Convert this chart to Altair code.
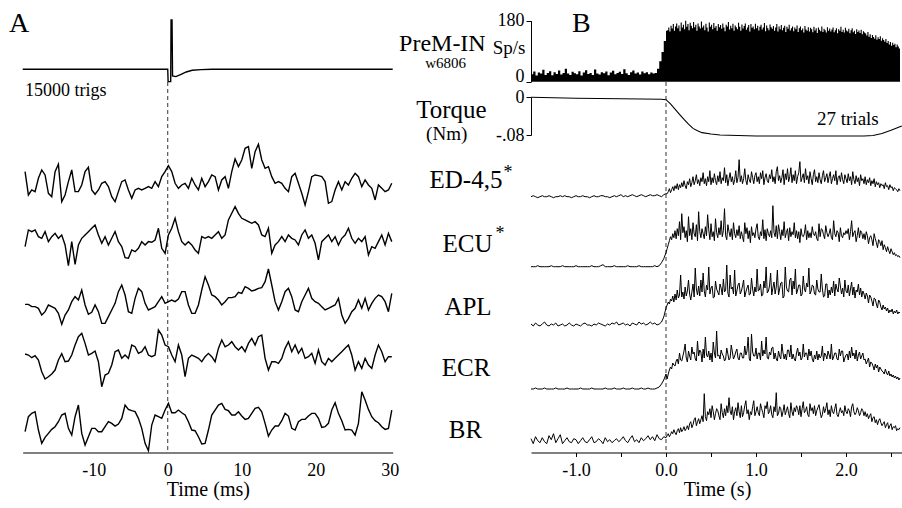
import altair as alt
import pandas as pd

FONT = "Liberation Serif"

# ---------------- data ----------------
# Panel A: spike-triggered averages, sampled on a regular grid (ms)
A_T0 = -19.28
A_DT = 0.4505
A_ED = [110, 40, 55, 50, 90, 115, 100, 45, 35, 110,
        132, 20, 40, 80, 115, 50, 50, 70, 110, 123,
        55, 42, 55, 75, 80, 65, 35, 20, 50, 80,
        85, 55, 30, 55, 60, 55, 60, 65, 60, 80,
        65, 95, 110, 128, 110, 75, 60, 70, 75, 60,
        90, 70, 55, 90, 65, 80, 100, 95, 55, 85,
        95, 60, 110, 148, 125, 145, 180, 185, 120, 170,
        192, 145, 120, 125, 95, 75, 80, 75, 60, 50,
        95, 105, 75, 45, 10, 50, 95, 100, 98, 95,
        80, 15, 20, 55, 80, 55, 80, 70, 90, 105,
        95, 65, 85, 70, 60, 25, 70, 60, 50, 55, 75]
A_ECU = [65, 115, 110, 115, 95, 90, 110, 80, 95, 105,
         90, 100, 70, 8, 80, 12, 70, 90, 100, 110,
         120, 130, 100, 75, 95, 70, 90, 110, 80, 65,
         32, 30, 55, 50, 60, 80, 70, 80, 78, 85,
         120, 60, 45, 100, 120, 150, 110, 80, 70, 80,
         70, 55, 45, 95, 90, 95, 90, 100, 110, 90,
         100, 145, 165, 185, 165, 150, 145, 140, 135, 140,
         130, 100, 95, 120, 45, 70, 80, 95, 80, 100,
         90, 85, 70, 100, 115, 90, 100, 75, 25, 80,
         90, 100, 80, 95, 70, 90, 100, 120, 90, 75,
         90, 80, 95, 40, 65, 60, 80, 100, 70, 105, 80]
A_APL = [77, 77, 70, 70, 65, 45, 55, 75, 70, 65,
         50, 17, 45, 60, 85, 100, 90, 120, 75, 47,
         53, 75, 55, 20, 20, 40, 60, 80, 115, 135,
         105, 55, 50, 95, 125, 115, 80, 60, 65, 70,
         85, 100, 80, 85, 90, 85, 93, 115, 115, 75,
         50, 50, 75, 120, 160, 135, 105, 100, 90, 75,
         85, 97, 97, 100, 113, 110, 130, 125, 117, 120,
         125, 127, 145, 183, 135, 85, 60, 85, 115, 125,
         100, 60, 55, 85, 105, 125, 95, 85, 80, 70,
         60, 65, 70, 75, 95, 45, 20, 35, 55, 65,
         90, 65, 95, 60, 80, 95, 105, 100, 85, 55, 110]
A_ECR = [113, 110, 102, 108, 95, 60, 38, 45, 53, 65,
         95, 114, 90, 92, 110, 140, 165, 175, 145, 110,
         115, 122, 90, 15, 50, 55, 80, 120, 125, 100,
         110, 100, 140, 135, 115, 120, 135, 110, 105, 110,
         185, 170, 140, 135, 110, 90, 140, 110, 45, 100,
         110, 105, 100, 90, 105, 115, 105, 90, 130, 155,
         135, 140, 150, 135, 125, 135, 120, 145, 160, 140,
         165, 170, 100, 65, 90, 90, 85, 100, 130, 150,
         120, 140, 115, 130, 100, 105, 115, 85, 125, 90,
         80, 100, 90, 100, 110, 120, 130, 140, 110, 65,
         90, 70, 100, 80, 70, 110, 140, 120, 90, 105, 105]
A_BR = [60, 105, 115, 120, 65, 25, 43, 55, 67, 75,
        90, 110, 115, 70, 50, 105, 140, 55, 20, 45,
        70, 70, 60, 60, 75, 90, 85, 77, 83, 100,
        140, 127, 123, 120, 100, 70, 25, 3, 80, 110,
        105, 100, 125, 145, 117, 117, 125, 117, 110, 90,
        65, 63, 45, 23, 25, 65, 110, 125, 140, 145,
        127, 123, 110, 110, 120, 107, 97, 100, 115, 130,
        133, 120, 85, 47, 65, 77, 77, 93, 115, 107,
        70, 65, 90, 97, 97, 107, 115, 115, 100, 73,
        75, 85, 125, 147, 115, 93, 65, 67, 65, 50,
        85, 180, 155, 127, 105, 93, 87, 75, 67, 70, 125]
# Trigger-spike average (time ms, amplitude)
A_SPIKE_T = [-19.6, 0.0, 0.05, 0.4, 0.45, 0.58, 0.65, 1.1, 1.8, 2.5, 3.3, 4.5, 6.0, 30.4]
A_SPIKE_V = [0, 0, -37, -37, 148, 148, -20, -22, -15, -8, -3, -1, 0, 0]

# Panel B: before onset every 25 ms (-1.5..0 s), after onset every 12.5 ms
B_PRE_T0, B_PRE_DT = -1.5, 0.025
B_POST_T0, B_POST_DT = 0.0125, 0.0125

# PreM-IN firing-rate histogram (sp/s)
B_HIST_PRE = [22, 30, 18, 27, 24, 35, 20, 26, 31, 19,
              28, 23, 33, 21, 26, 38, 24, 20, 29, 25,
              22, 31, 18, 27, 34, 23, 26, 20, 36, 24,
              21, 28, 25, 30, 19, 27, 32, 22, 26, 29,
              23, 37, 25, 20, 28, 33, 24, 27, 21, 30,
              25, 28, 22, 27, 24, 26, 38, 60, 88, 120, 150]
B_HIST_POST = [152, 160, 148, 165, 157, 170, 150, 163, 172, 158, 166, 149, 175, 160, 168, 155,
               180, 162, 170, 152, 174, 165, 158, 176, 161, 168, 150, 172, 163, 157, 178, 160,
               166, 152, 171, 160, 148, 175, 162, 168, 155, 173, 159, 164, 150, 170, 161, 167,
               156, 172, 160, 149, 168, 163, 176, 154, 165, 158, 171, 150, 166, 161, 155, 174,
               162, 150, 169, 157, 164, 172, 153, 160, 167, 148, 170, 159, 163, 155, 171, 158,
               165, 151, 162, 168, 154, 160, 173, 149, 166, 158, 152, 169, 161, 156, 164, 150,
               160, 170, 148, 163, 155, 167, 152, 159, 165, 147, 162, 156, 168, 151, 158, 163,
               149, 160, 155, 166, 147, 158, 163, 152, 157, 145, 164, 154, 150, 161, 148, 159,
               155, 146, 162, 151, 158, 144, 160, 153, 149, 163, 147, 156, 152, 145, 161, 150,
               157, 148, 154, 160, 146, 152, 158, 143, 155, 150, 162, 147, 153, 145, 159, 151,
               148, 156, 143, 152, 158, 146, 150, 141, 155, 147, 151, 144, 153, 140, 149, 145,
               142, 136, 147, 133, 140, 129, 138, 132, 127, 137, 124, 131, 126, 134, 121, 128,
               123, 118, 126, 114, 120, 110, 117, 106, 115, 108, 112, 102, 110, 104, 98, 106]

# EMG averages (amplitude, arbitrary units)
B_ED_PRE = [0, 1, 0, -1, 0, 1, 0, 0, 1, 0, -1, 0, 0, 1, 0, 1, 0, 0, -1, 0,
            1, 0, 0, 1, 0, 0, -1, 0, 1, 0, 0, 1, 1, 0, 0, -1, 0, 1, 0, 1,
            2, 0, 1, 0, 1, 2, 1, 0, 1, 2, 1, 0, 1, 2, 1, 1, 2, 1, 0, 2, 3]
B_ED_POST = [3, 5, 8, 4, 7, 10, 6, 11, 8, 13, 7, 12, 9, 14, 10, 16,
             11, 8, 15, 12, 18, 10, 14, 20, 12, 16, 22, 13, 17, 11, 19, 15,
             24, 13, 18, 11, 20, 15, 26, 12, 19, 14, 23, 16, 12, 21, 15, 25,
             13, 19, 16, 29, 14, 22, 11, 18, 24, 15, 20, 12, 17, 26, 14, 19,
             37, 15, 21, 13, 18, 28, 16, 12, 22, 17, 14, 25, 19, 13, 21, 24,
             15, 20, 13, 24, 18, 26, 12, 19, 23, 16, 14, 22, 18, 27, 15, 20,
             13, 25, 30, 16, 21, 14, 19, 27, 12, 23, 17, 28, 15, 20, 29, 14,
             22, 16, 26, 13, 20, 24, 35, 15, 19, 23, 14, 28, 17, 21, 13, 25,
             18, 12, 22, 27, 15, 20, 14, 24, 17, 13, 21, 26, 15, 19, 23, 14,
             20, 25, 13, 18, 22, 16, 26, 12, 19, 21, 15, 24, 17, 13, 22, 18,
             14, 23, 16, 20, 12, 25, 17, 13, 21, 15, 19, 11, 22, 16, 18, 13,
             20, 12, 17, 14, 19, 11, 16, 13, 18, 10, 15, 12, 14, 9, 13, 11,
             12, 8, 14, 10, 11, 7, 12, 9, 10, 6, 9, 8, 7, 5, 8, 6]
B_ECU_PRE = [0, 0, 0, 1, 0, 0, 0, 0, 0, 1, 0, 0, 0, 0, 1, 0, 0, 0, 0, 0,
             1, 0, 0, 0, 0, 0, 0, 1, 0, 0, 0, 1, 2, 0, 0, 0, 0, 1, 0, 0,
             0, 0, 0, 1, 0, 0, 0, 0, 1, 0, 0, 0, 0, 0, 0, 1, 0, 1, 4, 8, 14]
B_ECU_POST = [18, 22, 26, 30, 27, 33, 29, 36, 28, 38, 31, 45, 27, 53, 34, 40,
              29, 36, 25, 50, 31, 38, 27, 44, 33, 30, 42, 26, 55, 35, 29, 38,
              33, 28, 40, 31, 52, 37, 27, 43, 30, 35, 26, 48, 34, 29, 39, 32,
              46, 30, 36, 58, 31, 27, 42, 35, 30, 38, 27, 44, 33, 29, 37, 31,
              41, 28, 35, 30, 25, 44, 33, 39, 28, 36, 24, 40, 31, 34, 29, 38,
              43, 30, 27, 35, 31, 47, 28, 37, 26, 38, 33, 30, 36, 29, 61, 34,
              30, 41, 28, 42, 35, 27, 37, 31, 45, 29, 34, 38, 26, 39, 30, 35,
              32, 44, 29, 36, 28, 35, 24, 38, 31, 30, 33, 42, 27, 36, 29, 34,
              29, 40, 33, 31, 35, 28, 26, 43, 30, 38, 37, 32, 28, 41, 34, 30,
              33, 38, 29, 27, 46, 33, 30, 36, 34, 25, 39, 31, 29, 34, 32, 36,
              33, 38, 27, 35, 46, 30, 34, 36, 25, 31, 39, 29, 36, 34, 28, 33,
              27, 35, 31, 23, 29, 31, 27, 21, 33, 28, 24, 19, 27, 25, 21, 26,
              17, 22, 19, 15, 20, 16, 13, 18, 15, 12, 14, 11, 12, 10, 11, 9]
B_APL_PRE = [1, -1, 2, 0, -1, 1, 3, 0, -1, 1, 0, 2, -1, 0, 1, -1, 0, 2, 0, -1,
             1, 0, -1, 1, 2, 0, 0, -1, 1, 0, 2, 1, 0, -1, 1, 0, 2, 1, 3, 0,
             1, 2, 0, 1, -1, 2, 1, 0, 3, 1, 2, 0, 1, 3, 1, 2, 0, 1, 3, 8, 17]
B_APL_POST = [20, 23, 21, 26, 24, 29, 23, 31, 25, 35, 27, 30, 50, 28, 33, 26,
              38, 29, 34, 45, 31, 25, 33, 41, 28, 57, 36, 30, 39, 29, 45, 33,
              52, 34, 28, 40, 35, 58, 31, 37, 39, 27, 28, 44, 36, 33, 30, 41,
              37, 30, 46, 33, 35, 60, 32, 28, 50, 36, 38, 31, 55, 29, 34, 40,
              42, 31, 34, 39, 45, 28, 33, 37, 40, 30, 31, 47, 36, 29, 38, 33,
              56, 34, 35, 41, 29, 30, 44, 37, 58, 32, 34, 39, 52, 30, 37, 43,
              31, 38, 55, 30, 36, 42, 43, 27, 29, 58, 38, 34, 33, 45, 47, 30,
              44, 36, 56, 31, 35, 40, 40, 29, 31, 49, 36, 33, 42, 38, 57, 31,
              34, 40, 39, 31, 30, 45, 36, 33, 33, 51, 36, 28, 29, 41, 41, 27,
              35, 30, 38, 32, 44, 29, 41, 36, 33, 47, 39, 31, 37, 28, 45, 34,
              32, 40, 29, 36, 43, 30, 38, 27, 35, 33, 41, 30, 37, 28, 34, 31,
              26, 32, 29, 22, 30, 28, 24, 19, 27, 26, 21, 17, 25, 23, 18, 15,
              20, 16, 18, 14, 17, 12, 15, 13, 16, 11, 14, 12, 15, 11, 13, 12]
B_ECR_PRE = [0, 0, 1, 0, 0, 0, 1, 0, 0, 0, 0, 1, 0, 0, 0, 0, 1, 0, 0, 0,
             0, 0, 1, 0, 0, 0, 0, 1, 0, 0, 0, 0, 0, 1, 0, 0, 0, 1, 0, 0,
             0, 1, 0, 0, 0, 1, 0, 0, 0, 1, 0, 0, 1, 0, 0, 0, 1, 2, 5, 9, 15]
B_ECR_POST = [10, 15, 19, 22, 20, 26, 24, 23, 28, 30, 25, 36, 29, 28, 33, 38,
              45, 31, 27, 38, 33, 29, 42, 35, 37, 30, 28, 48, 33, 39, 37, 27,
              40, 31, 52, 34, 32, 38, 29, 36, 27, 47, 36, 31, 58, 33, 34, 30,
              39, 35, 33, 28, 30, 41, 35, 29, 31, 44, 37, 30, 33, 37, 40, 31,
              29, 36, 36, 31, 31, 43, 34, 38, 52, 30, 28, 55, 37, 33, 33, 41,
              30, 36, 36, 29, 48, 33, 39, 35, 52, 31, 30, 37, 34, 41, 42, 30,
              36, 30, 28, 38, 33, 30, 45, 36, 30, 35, 29, 39, 39, 32, 44, 30,
              35, 30, 28, 36, 41, 33, 37, 29, 31, 45, 32, 36, 36, 29, 40, 33,
              38, 30, 27, 34, 30, 38, 29, 35, 31, 33, 43, 28, 36, 34, 30, 38,
              34, 30, 45, 29, 32, 36, 36, 30, 29, 40, 33, 38, 38, 27, 31, 34,
              35, 29, 38, 31, 42, 33, 36, 30, 39, 28, 34, 37, 30, 33, 36, 29,
              30, 25, 28, 31, 22, 27, 26, 23, 19, 25, 21, 24, 17, 22, 20, 18,
              17, 15, 20, 16, 14, 18, 13, 15, 12, 14, 11, 13, 10, 12, 9, 11]
B_BR_PRE = [3, -2, 5, 1, -1, 4, 0, -2, 6, 2, 8, -1, 3, 7, -2, 1, 4, 0, -1, 3,
            2, -2, 1, 4, 0, -1, 2, 5, -1, 0, 3, 1, -2, 4, 0, 2, -1, 1, 3, 0,
            2, 5, 1, -1, 3, 6, 0, 2, -1, 4, 1, 3, 6, 2, 5, 1, 7, 3, 2, 5, 4]
B_BR_POST = [6, 8, 5, 7, 10, 8, 12, 9, 7, 11, 13, 9, 14, 10, 12, 15,
             11, 13, 16, 12, 18, 20, 14, 17, 22, 24, 16, 20, 23, 18, 22, 26,
             20, 48, 25, 21, 30, 27, 33, 24, 36, 30, 22, 28, 33, 31, 26, 22,
             38, 29, 24, 33, 26, 36, 29, 44, 31, 27, 35, 22, 30, 34, 26, 39,
             30, 24, 36, 25, 29, 36, 41, 28, 32, 22, 30, 27, 35, 41, 26, 30,
             35, 29, 26, 38, 33, 29, 24, 36, 33, 40, 28, 30, 36, 27, 24, 35,
             30, 49, 26, 28, 35, 33, 25, 30, 37, 27, 31, 35, 28, 24, 39, 30,
             26, 34, 30, 36, 33, 27, 36, 25, 33, 40, 29, 31, 35, 27, 25, 38,
             31, 34, 28, 36, 26, 31, 34, 37, 30, 24, 27, 35, 29, 33, 39, 27,
             32, 25, 36, 30, 28, 33, 38, 27, 25, 30, 34, 29, 31, 26, 36, 30,
             28, 33, 31, 25, 35, 38, 30, 27, 29, 34, 31, 26, 29, 33, 31, 26,
             30, 25, 28, 23, 26, 28, 20, 24, 25, 19, 22, 17, 21, 23, 19, 16,
             18, 20, 14, 17, 19, 13, 16, 18, 12, 15, 14, 16, 11, 13, 12, 14]
B_TORQUE_T = [-1.5, -1.0, -0.5, -0.05, 0.0, 0.05, 0.1, 0.15, 0.2, 0.25, 0.3, 0.35,
              0.4, 0.5, 0.6, 0.8, 1.0, 2.0, 2.2, 2.3, 2.4, 2.5, 2.62]
B_TORQUE_V = [0.0, -0.002, -0.003, -0.004, -0.005, -0.014, -0.025, -0.036, -0.047,
              -0.057, -0.066, -0.071, -0.075, -0.078, -0.080, -0.081, -0.082, -0.082,
              -0.082, -0.081, -0.077, -0.070, -0.061]

A_TICKS = [-10, 0, 10, 20, 30]
B_TICKS = [-1.0, -0.5, 0.0, 0.5, 1.0, 1.5, 2.0, 2.5]
PREM_TICKS = [0, 180]
TORQUE_TICKS = [-0.08, 0]

# ---------------- layout ----------------
W, H = 902, 508
AXIS_Y = 452.5
XA = alt.Scale(domain=[-19.6, 30.4], range=[22.7, 392.7])
XB = alt.Scale(domain=[-1.5, 2.62], range=[531, 901.8])
A_BOTTOM = {"ED": 208.3, "ECU": 268.3, "APL": 330.0, "ECR": 391.7, "BR": 451.7}
B_BASE = {"ED": 196.7, "ECU": 266.7, "APL": 325.0, "ECR": 389.0, "BR": 441.7}


def grid(t0, dt, n):
    return [round(t0 + i * dt, 5) for i in range(n)]


def b_times(pre, post):
    return grid(B_PRE_T0, B_PRE_DT, len(pre)) + grid(B_POST_T0, B_POST_DT, len(post))


def trace(t, v, xs, ydom, yrange, width=1.3, interp="linear", xaxis=None):
    df = pd.DataFrame({"t": t, "v": v})
    return alt.Chart(df).mark_line(color="black", strokeWidth=width, interpolate=interp).encode(
        x=alt.X("t:Q", scale=xs, axis=xaxis),
        y=alt.Y("v:Q", scale=alt.Scale(domain=ydom, range=yrange), axis=None),
    )


def label(text, x, y, size, align="center"):
    return alt.Chart(pd.DataFrame({"s": [text]})).mark_text(
        font=FONT, fontSize=size, align=align, baseline="alphabetic", color="black"
    ).encode(x=alt.value(x), y=alt.value(y), text="s:N")


axis_a = alt.Axis(orient="bottom", offset=AXIS_Y - H, values=A_TICKS, tickSize=0,
                  labelPadding=9, labelFontSize=18, labelFlush=False, labelOverlap=False,
                  labelExpr="(datum.value < 0 ? '-' : '') + format(abs(datum.value), 'd')",
                  title=None, grid=False)
axis_b = alt.Axis(orient="bottom", offset=AXIS_Y - H, values=B_TICKS, tickSize=4,
                  labelPadding=5, labelFontSize=18, labelFlush=False, labelOverlap=False,
                  labelExpr="datum.value % 1 == 0 ? (datum.value < 0 ? '-' : '') + format(abs(datum.value), '.1f') : ''",
                  title=None, grid=False)

layers = []

# dashed zero lines
for xs in (XA, XB):
    layers.append(
        alt.Chart(pd.DataFrame({"t": [0.0]})).mark_rule(color="#333", strokeWidth=1, strokeDash=[4, 3]).encode(
            x=alt.X("t:Q", scale=xs, axis=None), y=alt.value(82), y2=alt.value(AXIS_Y))
    )

# Panel A traces
layers.append(trace(A_SPIKE_T, A_SPIKE_V, XA, [0, 300], [69.3, -30.7], width=1.4))
for name, vals in (("ED", A_ED), ("ECU", A_ECU), ("APL", A_APL), ("ECR", A_ECR), ("BR", A_BR)):
    b = A_BOTTOM[name]
    layers.append(trace(grid(A_T0, A_DT, len(vals)), vals, XA, [0, 300], [b, b - 100], width=1.4,
                        xaxis=axis_a if name == "BR" else None))

# Panel B histogram
layers.append(
    alt.Chart(pd.DataFrame({"t": b_times(B_HIST_PRE, B_HIST_POST), "rate": B_HIST_PRE + B_HIST_POST}))
    .mark_area(color="black", interpolate="step-after").encode(
        x=alt.X("t:Q", scale=XB, axis=None),
        y=alt.Y("rate:Q", scale=alt.Scale(domain=[0, 180], range=[81.7, 20.7]),
                axis=alt.Axis(orient="left", offset=-531, values=PREM_TICKS, tickSize=5,
                              labelPadding=2, labelFontSize=18, title=None, grid=False,
                              labelBaseline={"condition": {"test": "datum.value == 0", "value": "alphabetic"},
                                             "value": "middle"})))
)
# Torque
layers.append(
    alt.Chart(pd.DataFrame({"t": B_TORQUE_T, "nm": B_TORQUE_V})).mark_line(color="black", strokeWidth=1.1).encode(
        x=alt.X("t:Q", scale=XB, axis=None),
        y=alt.Y("nm:Q", scale=alt.Scale(domain=[-0.08, 0], range=[135, 97.3]),
                axis=alt.Axis(orient="left", offset=-531, values=TORQUE_TICKS, tickSize=5,
                              labelPadding=2, labelFontSize=18, title=None, grid=False,
                              labelExpr="datum.value == 0 ? '0' : '-.08'")))
)
# Panel B EMG
for name, pre, post in (("ED", B_ED_PRE, B_ED_POST), ("ECU", B_ECU_PRE, B_ECU_POST),
                        ("APL", B_APL_PRE, B_APL_POST), ("ECR", B_ECR_PRE, B_ECR_POST),
                        ("BR", B_BR_PRE, B_BR_POST)):
    b = B_BASE[name]
    layers.append(trace(b_times(pre, post), pre + post, XB, [0, 100], [b, b - 100], width=1.0,
                        xaxis=axis_b if name == "BR" else None))

# Text
texts = [
    ("A", 9, 32, 28, "left"), ("B", 572, 32, 28, "left"),
    ("15000 trigs", 25, 95.7, 18, "left"),
    ("PreM-IN", 485.7, 50.7, 24, "right"), ("w6806", 445.7, 68.3, 15, "center"),
    ("Sp/s", 492.7, 54.3, 19, "left"),
    ("Torque", 486.7, 118.3, 25, "right"), ("(Nm)", 446.7, 140, 19, "center"),
    ("27 trials", 817, 125, 19, "left"),
    ("ED-4,5", 466, 188, 25, "center"), ("*", 508, 178, 18, "center"),
    ("ECU", 467.5, 252.3, 25, "center"), ("*", 500, 239, 18, "center"),
    ("APL", 468, 315, 25, "center"),
    ("ECR", 466, 375.7, 25, "center"),
    ("BR", 465.5, 437.7, 25, "center"),
    ("Time (ms)", 208.3, 496, 20, "center"),
    ("Time (s)", 717.5, 496, 20, "center"),
]
for s, x, y, size, al in texts:
    layers.append(label(s, x, y, size, al))

chart = alt.layer(*layers).resolve_scale(x="independent", y="independent").properties(
    width=W, height=H, autosize=alt.AutoSizeParams(type="none", contains="padding"), padding=0,
    background="white"
).configure_view(stroke=None).configure_axis(
    labelFont=FONT, labelColor="black", domainColor="black", tickColor="black", domainWidth=1, tickWidth=1
)

chart.save("out.html", embed_options={"renderer": "svg", "actions": False})
